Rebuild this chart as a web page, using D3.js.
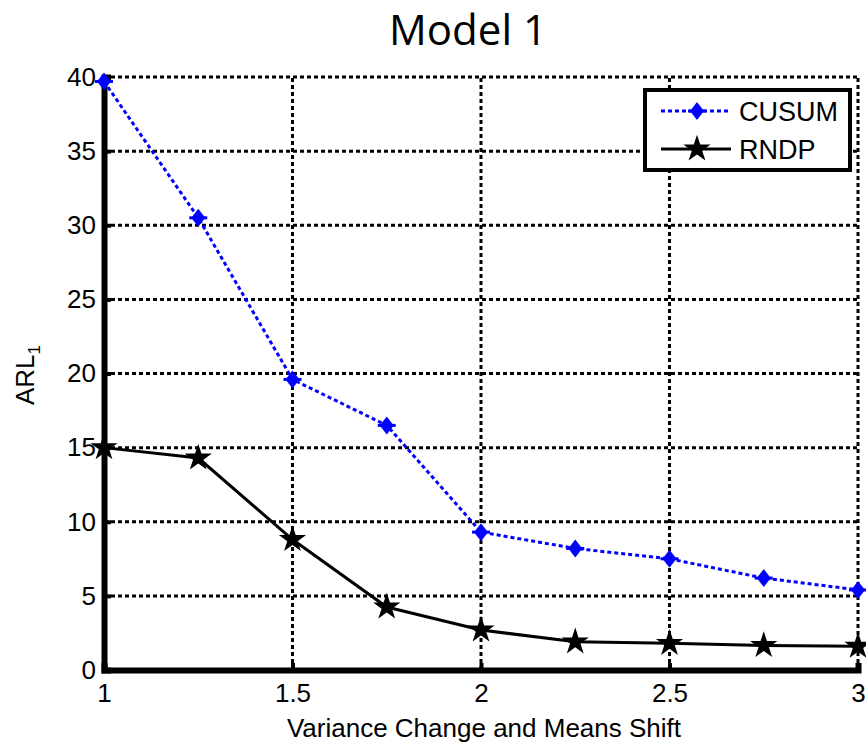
<!DOCTYPE html>
<html><head><meta charset="utf-8">
<script src="https://cdn.jsdelivr.net/npm/d3@7/dist/d3.min.js"></script>
<style>body{margin:0;background:#fff}svg{display:block}</style>
</head><body>
<svg id="c" width="866" height="747"></svg>
<script>
const xValues = [1, 1.25, 1.5, 1.75, 2, 2.25, 2.5, 2.75, 3];
const cusum = [39.7, 30.5, 19.6, 16.5, 9.3, 8.2, 7.5, 6.2, 5.4];
const rndp = [15.0, 14.3, 8.8, 4.25, 2.7, 1.9, 1.8, 1.65, 1.6];
const xTicks = [1, 1.5, 2, 2.5, 3];
const yTicks = [0, 5, 10, 15, 20, 25, 30, 35, 40];
const seriesNames = ["CUSUM", "RNDP"];

const svg = d3.select("#c");
const font = "'Liberation Sans', Arial, sans-serif";
const x = d3.scaleLinear().domain([1, 3]).range([104, 858]);
const y = d3.scaleLinear().domain([0, 40]).range([670, 77]);

// grid
const g = svg.append("g");
g.selectAll(".gy").data(yTicks.filter(d => d > 0)).enter().append("line")
  .attr("x1", x(1)).attr("x2", x(3)).attr("y1", d => y(d)).attr("y2", d => y(d))
  .attr("stroke", "#000").attr("stroke-width", 3).attr("stroke-dasharray", "4,3");
g.selectAll(".gx").data(xTicks.filter(d => d > 1)).enter().append("line")
  .attr("y1", y(0)).attr("y2", y(40)).attr("x1", d => x(d)).attr("x2", d => x(d))
  .attr("stroke", "#000").attr("stroke-width", 3).attr("stroke-dasharray", "4,3");

// axes
const xAxis = svg.append("g").attr("transform", `translate(0,${y(0)})`)
  .call(d3.axisBottom(x).tickValues(xTicks).tickFormat(d3.format("")).tickSize(-7).tickPadding(14));
const yAxis = svg.append("g").attr("transform", `translate(${x(1)},0)`)
  .call(d3.axisLeft(y).tickValues(yTicks).tickSize(-7).tickPadding(8));
[xAxis, yAxis].forEach(a => {
  a.select(".domain").attr("stroke", "#000").attr("stroke-width", 6);
  a.selectAll(".tick line").attr("stroke", "#000").attr("stroke-width", 4);
  a.selectAll("text").attr("font-family", font).attr("font-size", 26).attr("fill", "#000");
});
xAxis.selectAll("text").attr("dy", "0.71em");

// lines
const line = d3.line().x((d, i) => x(xValues[i])).y(d => y(d));
svg.append("path").datum(cusum).attr("d", line).attr("fill", "none")
  .attr("stroke", "#0000ff").attr("stroke-width", 3).attr("stroke-dasharray", "4,3");
svg.append("path").datum(rndp).attr("d", line).attr("fill", "none")
  .attr("stroke", "#000").attr("stroke-width", 3);

function diamond(sel, cx, cy) {
  sel.append("path").attr("d", `M${cx},${cy-9}L${cx+7},${cy}L${cx},${cy+9}L${cx-7},${cy}Z`).attr("fill", "#0000ff");
  sel.append("line").attr("x1", cx-9).attr("x2", cx+9).attr("y1", cy).attr("y2", cy).attr("stroke", "#0000ff").attr("stroke-width", 3);
}
const star = d3.symbol().type(d3.symbolStar).size(230);
const mk = svg.append("g");
cusum.forEach((v, i) => diamond(mk, x(xValues[i]), y(v)));
rndp.forEach((v, i) => mk.append("path").attr("d", star()).attr("transform", `translate(${x(xValues[i])},${y(v)})`).attr("fill", "#000"));

// title and labels
svg.append("text").attr("x", 468).attr("y", 45).attr("text-anchor", "middle")
  .attr("font-family", "'Open Sans', sans-serif").attr("font-size", 42).text("Model 1");
svg.append("text").attr("x", 484).attr("y", 737).attr("text-anchor", "middle")
  .attr("font-family", font).attr("font-size", 26).text("Variance Change and Means Shift");
const yl = svg.append("text").attr("transform", "translate(34,375) rotate(-90)").attr("text-anchor", "middle")
  .attr("font-family", font).attr("font-size", 26);
yl.append("tspan").text("ARL");
yl.append("tspan").attr("font-size", 17).attr("dy", 6).text("1");

// legend
const lg = svg.append("g");
lg.append("rect").attr("x", 645).attr("y", 90).attr("width", 205).attr("height", 80)
  .attr("fill", "#fff").attr("stroke", "#000").attr("stroke-width", 4);
lg.append("line").attr("x1", 661).attr("x2", 728).attr("y1", 111).attr("y2", 111)
  .attr("stroke", "#0000ff").attr("stroke-width", 3).attr("stroke-dasharray", "4,3");
diamond(lg, 697, 111);
lg.append("line").attr("x1", 661).attr("x2", 731).attr("y1", 149).attr("y2", 149)
  .attr("stroke", "#000").attr("stroke-width", 3);
lg.append("path").attr("d", star()).attr("transform", "translate(697,149)").attr("fill", "#000");
lg.selectAll(".lt").data(seriesNames).enter().append("text")
  .attr("x", 739).attr("y", (d, i) => 121 + i * 38)
  .attr("font-family", font).attr("font-size", 27).text(d => d);
</script>
</body></html>
